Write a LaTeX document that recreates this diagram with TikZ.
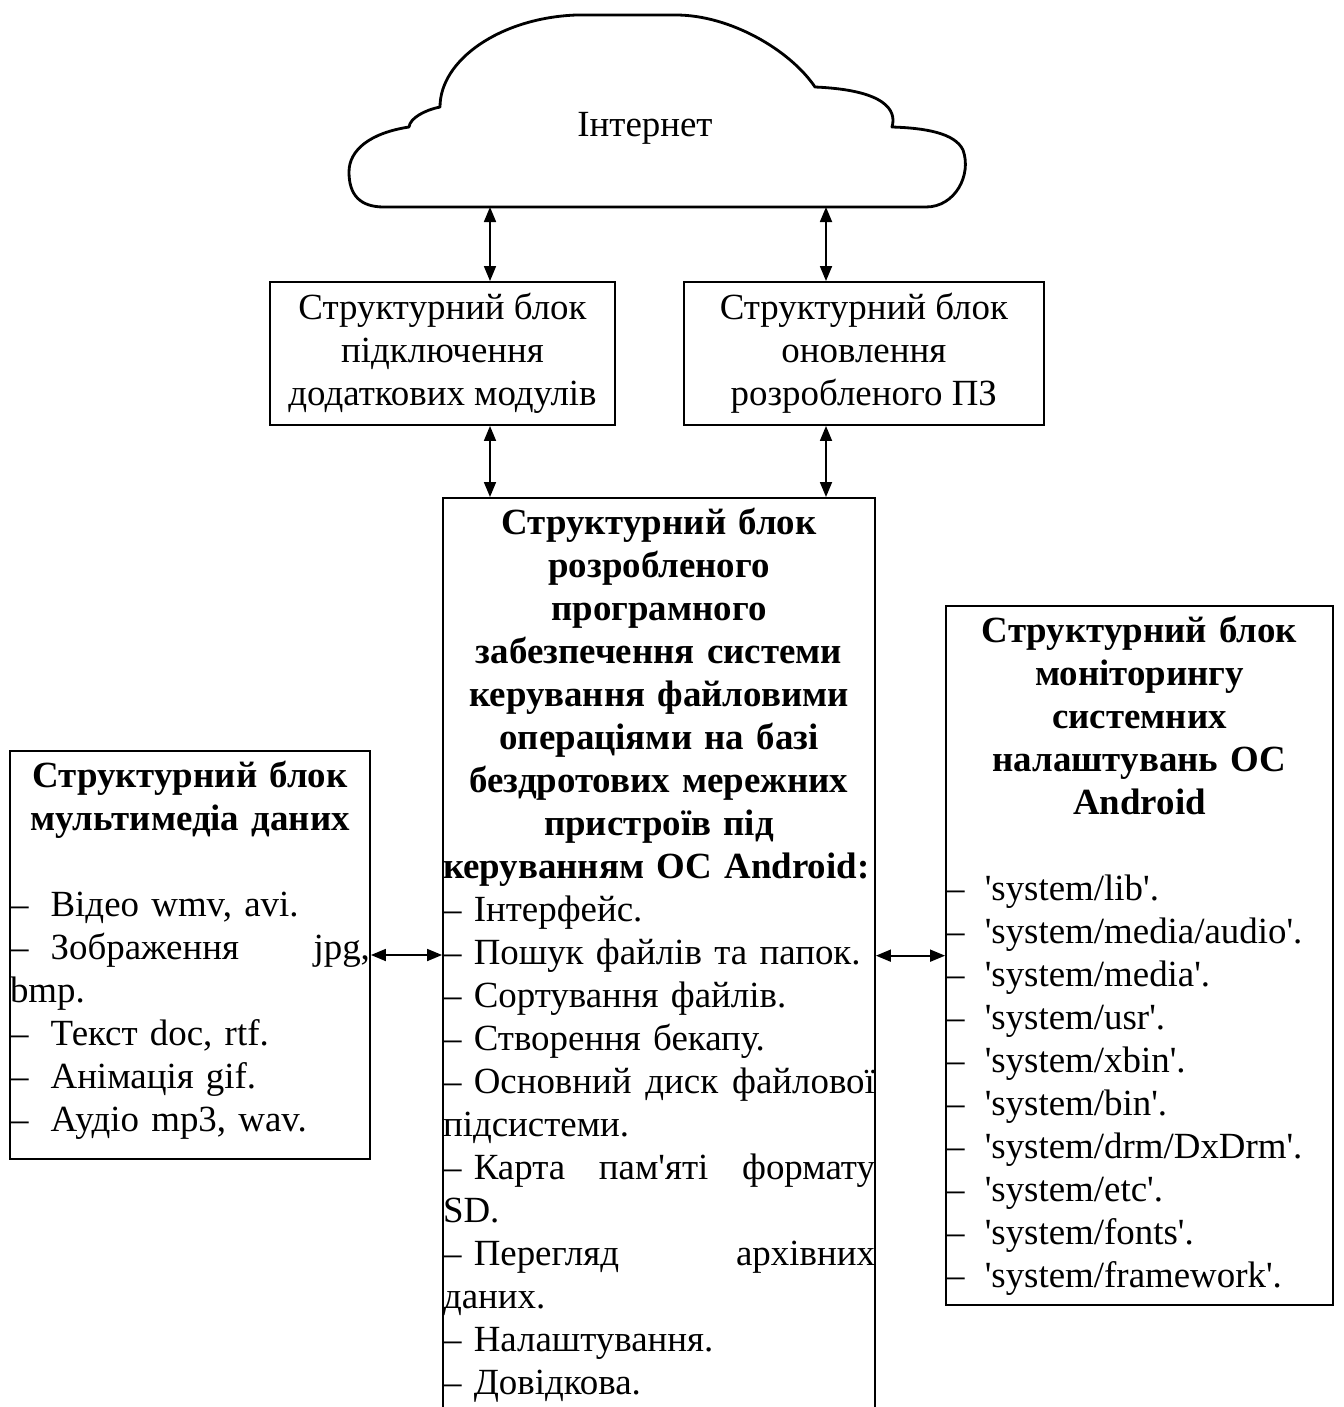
\documentclass[tikz,border=0pt]{standalone}
\usepackage{fontspec}
\setmainfont{Liberation Serif}[Ligatures=TeXOff]
\usetikzlibrary{positioning,arrows.meta}
\setlength{\parindent}{0pt}
\newcommand{\itemdash}[1][0.6em]{–\hspace{#1}}

\tikzset{
  blk/.style={draw, line width=1.1pt, inner xsep=0pt, inner ysep=5.5pt, font=\fontsize{21pt}{24.5pt}\selectfont},
  lst/.style={blk, text width=#1, anchor=north},
  arr/.style={{Triangle[length=0.3cm,width=0.24cm]}-{Triangle[length=0.3cm,width=0.24cm]}, line width=1pt},
}

\begin{document}
\begin{tikzpicture}[x=0.02cm, y=-0.02cm]
\useasboundingbox (0,0) rectangle (1343,1407);
\clip (0,0) rectangle (1343,1407);

% cloud
\draw[line width=1.6pt, line join=round] (384,207) -- (926,207)
  .. controls (955,207) and (972,175) .. (963,150)
  .. controls (955,133) and (925,128) .. (892,127)
  .. controls (897,110) and (885,90) .. (815,87)
  .. controls (790,50) and (730,15) .. (676,15)
  -- (576,15)
  .. controls (500,18) and (440,60) .. (440,107)
  .. controls (425,110) and (410,118) .. (409,127)
  .. controls (370,133) and (349,150) .. (349,172)
  .. controls (349,195) and (360,207) .. (384,207) -- cycle;
\node[font=\fontsize{21pt}{24.5pt}\selectfont] (inet) at (645,128) {Інтернет};
\coordinate (inetL) at (490,207);
\coordinate (inetR) at (826,207);

% upper blocks
\node[blk, align=center, minimum width=6.9cm, minimum height=2.86cm] (addblk) at (442.5,353.5)
  {Структурний блок\\ підключення\\ додаткових модулів};
\node[blk, align=center, minimum width=7.2cm, minimum height=2.86cm, right=1.34cm of addblk] (updblk)
  {Структурний блок\\ оновлення\\ розробленого ПЗ};

% main block
\node[lst=8.64cm] (mainblk) at (659,497) {%
  {\centering\bfseries Структурний блок\\ розробленого\\ програмного\\ забезпечення системи\\
   керування файловими\\ операціями на базі\\ бездротових мережних\\ пристроїв під\\
   \makebox[\linewidth][s]{керуванням ОС Android:}\par}
  – Інтерфейс.\\
  – Пошук файлів та папок.\\
  – Сортування файлів.\\
  – Створення бекапу.\\
  – Основний\hfill диск\hfill файлової\\
  підсистеми.\\
  – Карта\hfill пам'яті\hfill формату\\
  SD.\\
  – Перегляд\hfill архівних\\
  даних.\\
  – Налаштування.\\
  – Довідкова.\par\kern1cm};

% side blocks
\node[lst=7.2cm] (mmblk) at (190,750) {%
  {\centering\bfseries Структурний блок\\ мультимедіа даних\par}
  \vspace{\baselineskip}
  \itemdash Відео wmv, avi.\\
  \itemdash Зображення\hfill jpg,\\
  bmp.\\
  \itemdash Текст doc, rtf.\\
  \itemdash Анімація gif.\\
  \itemdash Аудіо mp3, wav.\par\kern0.2cm};
\node[lst=7.74cm] (sysblk) at (1139.5,605) {%
  {\centering\bfseries Структурний блок\\ моніторингу\\ системних\\ налаштувань ОС\\ Android\par}
  \vspace{\baselineskip}
  \itemdash[0.55em]'system/lib'.\\
  \itemdash[0.55em]'system/media/audio'.\\
  \itemdash[0.55em]'system/media'.\\
  \itemdash[0.55em]'system/usr'.\\
  \itemdash[0.55em]'system/xbin'.\\
  \itemdash[0.55em]'system/bin'.\\
  \itemdash[0.55em]'system/drm/DxDrm'.\\
  \itemdash[0.55em]'system/etc'.\\
  \itemdash[0.55em]'system/fonts'.\\
  \itemdash[0.55em]'system/framework'.};

% connectors
\draw[arr] (inetL) -- (inetL |- addblk.north);
\draw[arr] (inetL |- addblk.south) -- (inetL |- mainblk.north);
\draw[arr] (inetR) -- (inetR |- updblk.north);
\draw[arr] (inetR |- updblk.south) -- (inetR |- mainblk.north);
\draw[arr] (mmblk.east) -- (mmblk.east -| mainblk.west);
\draw[arr] (sysblk.west -| mainblk.east) -- (sysblk.west);
\end{tikzpicture}
\end{document}
